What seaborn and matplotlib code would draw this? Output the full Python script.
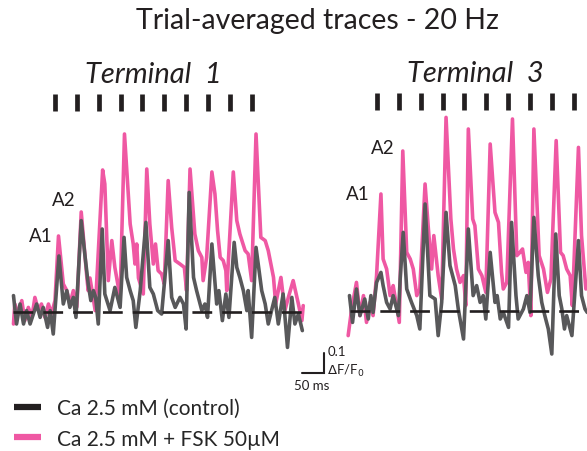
import matplotlib
matplotlib.use("Agg")
import matplotlib.pyplot as plt
from matplotlib.lines import Line2D
import pandas as pd
import seaborn as sns

# ---- data (time in ms from first stimulus, signal in dF/F0) ----
stim_ms = [0, 50, 100, 150, 200, 250, 300, 350, 400, 450]

t1_fsk_ms = [-95, -92, -84, -76, -69, -61, -53, -46, -38, -31, -23, -15, -8, 0, 8, 19, 27, 34, 42, 50,
             60, 73, 76, 80, 92, 109, 114, 122, 130, 137, 149, 159, 172, 179, 183, 187, 191, 202, 210, 217,
             225, 230, 236, 244, 250, 259, 267, 275, 286, 296, 301, 309, 320, 328, 336, 339, 347, 359, 366,
             372, 378, 385, 391, 393, 408, 416, 423, 435, 442, 450, 460, 471, 481, 488, 500, 505, 517, 526,
             534, 545, 557, 565, 568]
t1_fsk = [-0.06, 0.04, -0.01, 0.057, -0.043, 0.023, -0.027, 0.073, 0.007, 0.04, -0.027, 0.04, -0.01, 0.057,
          0.38, 0.14, 0.107, 0.04, 0.107, 0.025, 0.50, 0.17, 0.107, 0.17, 0.007, 0.71, 0.64, 0.157, 0.357,
          0.223, 0.073, 0.89, 0.44, 0.34, 0.24, 0.34, 0.17, 0.09, 0.715, 0.44, 0.24, 0.34, 0.207, 0.19, 0.14,
          0.657, 0.423, 0.257, 0.24, 0.223, 0.107, 0.715, 0.39, 0.307, 0.273, 0.157, 0.273, 0.70, 0.59,
          0.407, 0.273, 0.257, 0.207, 0.107, 0.70, 0.457, 0.39, 0.307, 0.29, 0.157, 0.89, 0.373, 0.357,
          0.307, 0.173, 0.04, 0.173, 0.007, 0.073, 0.157, 0.04, -0.043, 0.032]

t1_ctrl_ms = [-95, -88, -80, -72, -65, -57, -42, -34, -27, -17, -11, -4, 9, 19, 27, 34, 42, 48, 60, 69,
              76, 82, 88, 93, 99, 108, 114, 126, 137, 149, 158, 164, 172, 179, 185, 195, 208, 217, 225, 235,
              244, 259, 267, 275, 286, 294, 300, 307, 317, 324, 336, 343, 349, 359, 370, 375, 383, 391, 398,
              410, 416, 423, 431, 439, 442, 450, 460, 473, 481, 488, 503, 511, 522, 532, 542, 549, 557, 566]
t1_ctrl = [0.082, -0.06, 0.04, -0.06, 0.007, -0.06, 0.04, -0.027, 0.023, -0.077, 0.007, -0.11, 0.28, 0.04,
           0.107, 0.023, 0.073, -0.027, 0.457, 0.273, 0.14, 0.057, 0.107, 0.073, -0.06, 0.415, 0.09, 0.007,
           0.123, 0.023, 0.373, 0.173, 0.107, 0.057, -0.077, 0.107, 0.448, 0.123, 0.09, 0.007, -0.01, 0.357,
           0.073, 0.023, 0.073, 0.04, -0.085, 0.598, 0.173, 0.107, 0.007, 0.04, -0.027, 0.34, 0.04, 0.107,
           -0.043, 0.09, -0.027, 0.348, 0.223, 0.173, 0.107, 0.007, 0.107, -0.127, 0.323, 0.107, 0.04, -0.06,
           0.073, -0.06, 0.09, -0.177, 0.073, -0.06, -0.01, -0.093]

t3_fsk_ms = [-66, -58, -47, -39, -31, -24, -16, -9, -1, 9, 14, 22, 30, 37, 51, 59, 68, 76, 83, 91, 98, 110,
             117, 125, 130, 140, 148, 158, 169, 175, 182, 190, 198, 203, 209, 219, 224, 232, 240, 249, 259,
             270, 278, 285, 289, 297, 310, 320, 327, 333, 341, 346, 352, 359, 371, 381, 390, 398, 410, 420,
             426, 434, 442, 447, 461, 468, 478]
t3_fsk = [-0.123, 0.01, 0.143, -0.023, 0.077, -0.057, 0.043, -0.023, 0.177, 0.585, 0.26, 0.21, 0.077, 0.127,
          -0.057, 0.80, 0.293, 0.26, 0.21, 0.077, 0.11, 0.635, 0.427, 0.21, 0.377, 0.177, 0.06, 0.968, 0.46,
          0.31, 0.21, 0.143, 0.177, 0.027, 0.91, 0.46, 0.427, 0.21, 0.177, 0.093, 0.835, 0.493, 0.443, 0.193,
          0.11, 0.143, 0.96, 0.277, 0.293, 0.31, 0.193, 0.243, -0.023, 0.91, 0.277, 0.21, 0.093, 0.16, 0.852,
          0.293, 0.277, 0.21, 0.177, 0.027, 0.818, 0.377, 0.11]

t3_ctrl_ms = [-63, -56, -47, -39, -28, -20, -14, -9, -1, 9, 14, 22, 30, 37, 49, 53, 60, 68, 79, 91, 98, 110,
              121, 133, 140, 148, 158, 167, 179, 186, 198, 209, 220, 228, 236, 243, 249, 259, 270, 275, 282,
              289, 301, 308, 318, 323, 335, 343, 350, 359, 369, 377, 384, 392, 400, 409, 417, 423, 429, 434,
              446, 461, 468, 476, 481]
t3_ctrl = [0.077, -0.057, 0.11, -0.023, 0.06, -0.04, 0.077, -0.007, 0.143, 0.193, 0.127, 0.043, 0.01, 0.077,
           -0.023, 0.16, 0.393, 0.11, 0.043, -0.023, -0.09, 0.535, 0.077, 0.06, -0.123, 0.043, 0.493, 0.227,
           0.127, 0.01, -0.14, 0.41, 0.077, 0.127, 0.043, 0.077, -0.04, 0.293, 0.043, 0.077, -0.04, -0.007,
           -0.082, 0.443, 0.077, -0.04, 0.01, 0.077, -0.007, 0.468, 0.177, 0.043, -0.023, -0.09, -0.215, 0.385,
           0.077, 0.01, -0.09, -0.023, -0.123, 0.352, 0.077, 0.01, -0.007]

labels = ["Ca 2.5 mM (control)", "Ca 2.5 mM + FSK 50\u00b5M"]
PINK = "#EF58A3"
GRAY = "#58585A"
BLACK = "#231F20"

sns.set_theme(style="white")
plt.rcParams["font.family"] = ["Lato", "DejaVu Sans"]

W, H = 587, 452
fig = plt.figure(figsize=(W / 100, H / 100), dpi=100)

PX_MS = 0.437   # pixels per ms
PX_DF = 200.0   # pixels per unit dF/F0


def make_axes(x0, x1, y0, y1, stim_px, base_px):
    # axes rectangle given in pixels, limits chosen so both panels share the same scale
    ax = fig.add_axes([x0 / W, 1 - y1 / H, (x1 - x0) / W, (y1 - y0) / H])
    ax.set_xlim((x0 - stim_px) / PX_MS, (x1 - stim_px) / PX_MS)
    ax.set_ylim((base_px - y1) / PX_DF, (base_px - y0) / PX_DF)
    ax.set_axis_off()
    return ax


ax1 = make_axes(0, 332, 88, 400, 55, 313)
ax2 = make_axes(334, 587, 88, 400, 377, 312)

panels = [
    (ax1, t1_fsk_ms, t1_fsk, t1_ctrl_ms, t1_ctrl, (-96, 568), "Terminal  1",
     (-32, 0.38), (19, 0.56)),
    (ax2, t3_fsk_ms, t3_fsk, t3_ctrl_ms, t3_ctrl, (-62, 520), "Terminal  3",
     (-43, 0.585), (14, 0.815)),
]

for ax, fms, fv, cms, cv, base, name, a1, a2 in panels:
    sns.lineplot(x=fms, y=fv, ax=ax, color=PINK, linewidth=2.6, estimator=None)
    sns.lineplot(x=cms, y=cv, ax=ax, color=GRAY, linewidth=2.6, estimator=None)
    ax.hlines(0, base[0], base[1], colors=BLACK, linewidth=1.9, linestyles=(0, (7.5, 3.8)))
    ax.vlines(stim_ms, 1.005, 1.09, colors=BLACK, linewidth=3.4)
    ax.text(225, 1.15, name, ha="center", va="baseline", fontsize=21, style="italic",
            color=BLACK, clip_on=False)
    ax.text(a1[0], a1[1], "A1", ha="center", va="center", fontsize=13.5, color=BLACK)
    ax.text(a2[0], a2[1], "A2", ha="center", va="center", fontsize=13.5, color=BLACK)

# scale bar: 50 ms x 0.1 dF/F0
ax1.plot([565, 615, 615], [-0.305, -0.305, -0.205], color=BLACK, linewidth=1.5,
         solid_joinstyle="miter", clip_on=False)
ax1.text(623, -0.195, "0.1", ha="left", va="center", fontsize=9.5, color=BLACK)
ax1.text(623, -0.29, r"$\Delta$F/F$_0$", ha="left", va="center", fontsize=9.5, color=BLACK)
ax1.text(588, -0.365, "50 ms", ha="center", va="center", fontsize=9.5, color=BLACK)

fig.text(317 / W, 1 - 28.5 / H, "Trial-averaged traces - 20 Hz", ha="center", va="baseline",
         fontsize=20.5, color=BLACK)

handles = [Line2D([], [], color=BLACK, linewidth=4.5, solid_capstyle="butt"),
           Line2D([], [], color=PINK, linewidth=4.5, solid_capstyle="butt")]
fig.legend(handles, labels, loc="upper left", bbox_to_anchor=(6 / W, 1 - 391 / H), frameon=False,
           fontsize=15, handlelength=1.3, handletextpad=0.75, labelspacing=0.5, borderaxespad=0)

fig.savefig("out.png", dpi=100)
